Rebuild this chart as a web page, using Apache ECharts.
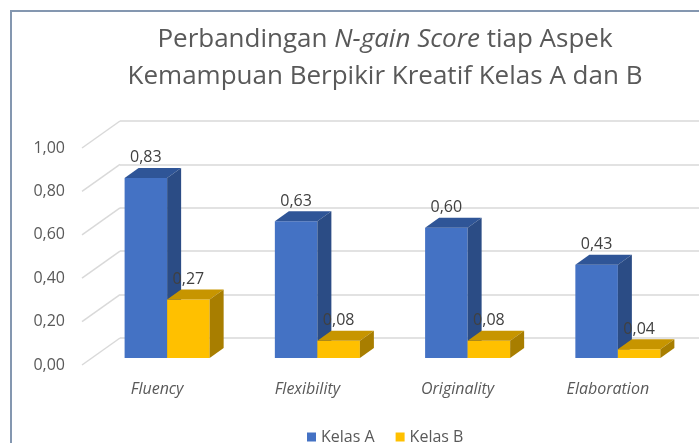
<!DOCTYPE html>
<html>
<head>
<meta charset="utf-8">
<script src="https://cdn.jsdelivr.net/npm/echarts@6/dist/echarts.min.js"></script>
<style>
html,body{margin:0;padding:0;background:#fff;}
#chart{width:699px;height:443px;}
</style>
</head>
<body>
<div id="chart"></div>
<script>
const categories = ['Fluency', 'Flexibility', 'Originality', 'Elaboration'];
const kelasA = [0.83, 0.63, 0.60, 0.43];
const kelasB = [0.27, 0.08, 0.08, 0.04];
const yTicks = [0, 0.2, 0.4, 0.6, 0.8, 1.0];
const seriesNames = ['Kelas A', 'Kelas B'];

const FONT = '"Open Sans", "Noto Sans", sans-serif';
const TXT = '#595959';
const colorsMain = ['#4472C4', '#FFC000'];
const colorsTop = ['#2F5597', '#C79500'];
const colorsSide = ['#2B4C85', '#A87E00'];
const DEPTH_X = 14, DEPTH_Y = -10;
const WALL_X = 38, WALL_Y = -27;

function fmt(v) { return v.toFixed(2).replace('.', ','); }

function barRender(s) {
  return function (params, api) {
    const idx = api.value(0), v = api.value(1);
    const base = api.coord([idx, 0]);
    const top = api.coord([idx, v]);
    const band = api.size([1, 0])[0];
    const w = band * 0.283;
    const x0 = base[0] + (s === 0 ? -w : 0);
    const x1 = x0 + w;
    const yb = base[1], yt = top[1];
    return {
      type: 'group',
      children: [
        { type: 'rect', shape: { x: x0, y: yt, width: w, height: yb - yt }, style: { fill: colorsMain[s] } },
        { type: 'polygon', shape: { points: [[x0, yt], [x0 + DEPTH_X, yt + DEPTH_Y], [x1 + DEPTH_X, yt + DEPTH_Y], [x1, yt]] }, style: { fill: colorsTop[s] } },
        { type: 'polygon', shape: { points: [[x1, yt], [x1 + DEPTH_X, yt + DEPTH_Y], [x1 + DEPTH_X, yb + DEPTH_Y], [x1, yb]] }, style: { fill: colorsSide[s] } },
        { type: 'text', z2: 10, style: { x: (x0 + x1) / 2, y: yt - 20, text: fmt(v), fill: '#404040', font: '16px ' + FONT, align: 'center', verticalAlign: 'middle' } }
      ]
    };
  };
}

const chart = echarts.init(document.getElementById('chart'), null, { renderer: 'canvas' });
chart.setOption({
  backgroundColor: '#ffffff',
  animation: false,
  title: {
    left: 380, top: 16, textAlign: 'center',
    text: '{n|Perbandingan }{i|N-gain Score}{n| tiap Aspek}\n{n|Kemampuan Berpikir Kreatif Kelas A dan B}',
    textStyle: {
      rich: {
        n: { fontFamily: FONT, fontSize: 26, fontWeight: 'normal', color: TXT, lineHeight: 37 },
        i: { fontFamily: FONT, fontSize: 26, fontWeight: 'normal', color: TXT, fontStyle: 'italic', lineHeight: 37 }
      }
    }
  },
  graphic: [{
    type: 'polyline', silent: true,
    shape: { points: [[11, 443], [11, 11], [699, 11]] },
    style: { stroke: '#8497B0', lineWidth: 2, fill: null }
  }],
  legend: {
    left: 302, top: 424,
    itemWidth: 9, itemHeight: 9, itemGap: 21, icon: 'rect',
    textStyle: { fontFamily: FONT, fontSize: 16, color: TXT },
    data: seriesNames
  },
  grid: [
    { left: 82, top: 148, width: 601, height: 217 },
    { left: 92, top: 141, width: 601, height: 217 },
    { left: 82 + WALL_X, top: 148 + WALL_Y, width: 601, height: 217 }
  ],
  xAxis: [
    { gridIndex: 0, type: 'category', data: categories,
      axisLine: { show: false }, axisTick: { show: false },
      axisLabel: { margin: 16, fontFamily: FONT, fontSize: 16, fontStyle: 'italic', color: TXT } },
    { gridIndex: 1, type: 'category', data: categories, show: false },
    { gridIndex: 2, type: 'category', data: categories, show: false }
  ],
  yAxis: [
    { gridIndex: 0, type: 'value', min: 0, max: 1, interval: 0.2,
      axisLine: { show: false }, axisTick: { show: false }, splitLine: { show: false },
      axisLabel: { margin: 17, fontFamily: FONT, fontSize: 16, color: TXT, formatter: fmt } },
    { gridIndex: 1, type: 'value', min: 0, max: 1, interval: 0.2, show: false, splitLine: { show: false } },
    { gridIndex: 2, type: 'value', min: 0, max: 1, interval: 0.2,
      axisLine: { show: false }, axisTick: { show: false }, axisLabel: { show: false },
      splitLine: { show: true, lineStyle: { color: '#D9D9D9', width: 1.5 } } }
  ],
  series: [
    {
      type: 'custom', name: 'diag', xAxisIndex: 0, yAxisIndex: 0, silent: true,
      data: yTicks.map(v => [0, v]),
      encode: { x: 0, y: 1 },
      renderItem: function (params, api) {
        const p = api.coord([0, api.value(1)]);
        const x0 = params.coordSys.x;
        return { type: 'line', shape: { x1: x0, y1: p[1], x2: x0 + WALL_X, y2: p[1] + WALL_Y }, style: { stroke: '#D9D9D9', lineWidth: 1.5 } };
      }
    },
    {
      type: 'custom', name: seriesNames[0], xAxisIndex: 1, yAxisIndex: 1,
      itemStyle: { color: colorsMain[0] },
      data: kelasA.map((v, i) => [i, v]),
      encode: { x: 0, y: 1 },
      renderItem: barRender(0)
    },
    {
      type: 'custom', name: seriesNames[1], xAxisIndex: 1, yAxisIndex: 1,
      itemStyle: { color: colorsMain[1] },
      data: kelasB.map((v, i) => [i, v]),
      encode: { x: 0, y: 1 },
      renderItem: barRender(1)
    }
  ]
});
</script>
</body>
</html>
